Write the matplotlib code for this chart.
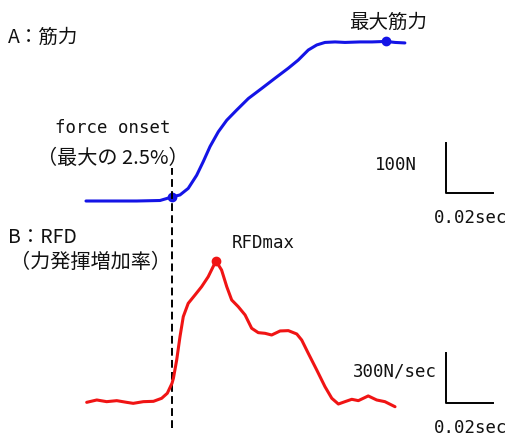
import numpy as np
import matplotlib.pyplot as plt

# ─── Data ─────────────────────────────────────────────────────────────────────
# Force trace: time in ms relative to force onset, force in N
force_t = [-36.6, -25.0, -15.0, -5.1, 0.0, 3.4, 6.9, 10.5, 13.3, 16.2, 19.7,
           23.3, 27.5, 32.5, 38.2, 43.8, 49.5, 53.7, 58.0, 61.6, 65.1,
           69.4, 73.6, 80.0, 85.1, 91.1, 94.9, 99.1]
force_n = [0, 0, 0, 1, 8, 12, 25, 51, 78, 108, 137,
           160, 180, 203, 223, 243, 263, 279, 299, 309, 314,
           315, 314, 315, 315, 316, 314, 313]

# RFD trace: time in ms, rate of force development in N/sec
rfd_t = [-36.3, -32.0, -27.8, -23.5, -19.3, -16.5, -12.2, -7.9, -4.4, -2.0,
         0.0, 0.6, 2.0, 3.4, 4.8, 6.9, 9.8, 12.6, 15.4, 18.7,
         21.1, 23.3, 25.4, 28.2, 31.1, 33.9, 36.7, 39.6, 42.4, 46.0,
         49.5, 53.1, 55.2, 58.0, 61.6, 65.1, 68.0, 70.8, 73.6, 76.5,
         79.3, 83.5, 87.1, 90.6, 94.9]
rfd_v = [-2, 12, 2, 8, -2, -8, 2, 4, 22, 52,
         111, 141, 250, 388, 507, 586, 636, 685, 744, 838,
         784, 685, 606, 566, 517, 438, 412, 408, 398, 422,
         424, 404, 368, 289, 190, 91, 22, -12, 2, 16,
         8, 36, 12, 2, -28]

ONSET_T = 0.0          # ms, force onset (2.5% of max force)
SCALE_T = 20           # ms  -> "0.02sec"
SCALE_F = 100          # N   -> "100N"
SCALE_R = 300          # N/s -> "300N/sec"

# ─── Layout (pixels) ──────────────────────────────────────────────────────────
W, H = 509, 441
ONSET_PX = 172
PX_PER_MS = 47 / 20
FORCE_BASE_PX, PX_PER_N = 201, 50.5 / 100
RFD_BASE_PX, PX_PER_NS = 402, 50.5 / 300
BAR_T = (445.5 - ONSET_PX) / PX_PER_MS

JP = ["Noto Sans CJK JP", "DejaVu Sans"]
MONO = ["DejaVu Sans Mono", "Noto Sans CJK JP"]

fig = plt.figure(figsize=(W / 100, H / 100), dpi=100)
ax_f = fig.add_axes([0, 0, 1, 1])
ax_r = fig.add_axes([0, 0, 1, 1])
for ax in (ax_f, ax_r):
    ax.set_xlim(-ONSET_PX / PX_PER_MS, (W - ONSET_PX) / PX_PER_MS)
    ax.axis("off")
    ax.patch.set_alpha(0)
ax_f.set_ylim((FORCE_BASE_PX - H) / PX_PER_N, FORCE_BASE_PX / PX_PER_N)
ax_r.set_ylim((RFD_BASE_PX - H) / PX_PER_NS, RFD_BASE_PX / PX_PER_NS)

blue, red = "#1414e6", "#f01414"
curve_kw = dict(lw=2.2, solid_capstyle="round", solid_joinstyle="round")

# A: force curve
ax_f.plot(force_t, force_n, color=blue, **curve_kw)
i_max = int(np.argmax(force_n))
i_on = force_t.index(ONSET_T)
ax_f.plot(force_t[i_max], force_n[i_max], "o", color=blue, ms=6)
ax_f.plot(force_t[i_on], force_n[i_on], "o", color=blue, ms=6)

# B: RFD curve
ax_r.plot(rfd_t, rfd_v, color=red, **curve_kw)
i_pk = int(np.argmax(rfd_v))
ax_r.plot(rfd_t[i_pk], rfd_v[i_pk], "o", color=red, ms=6)

# onset marker line through both traces
ax_f.axvline(ONSET_T, ymin=1 - 428 / H, ymax=1 - 168 / H, color="black",
             lw=1.4, linestyle=(0, (4, 2.2)))

# scale bars
f0, r0 = 15, -8
ax_f.plot([BAR_T, BAR_T, BAR_T + SCALE_T], [f0 + SCALE_F, f0, f0],
          color="black", lw=1.4)
ax_r.plot([BAR_T, BAR_T, BAR_T + SCALE_T], [r0 + SCALE_R, r0, r0],
          color="black", lw=1.4)


def label(x, y, s, ha="left", family=JP, size=14):
    fig.text(x / W, 1 - y / H, s, ha=ha, va="center", family=family,
             fontsize=size, color="#111111")


label(8, 37, "A：筋力")
label(388, 22, "最大筋力", ha="center")
label(113, 128, "force onset", ha="center", family=MONO, size=12.5)
label(113, 158, "（最大の 2.5%）", ha="center", size=14.5)
label(417, 165, "100N", ha="right", family=MONO, size=12.5)
label(471, 218, "0.02sec", ha="center", family=MONO, size=12.5)

label(8, 237, "B：RFD")
label(91, 262, "（力発揮増加率）", ha="center", size=14.5)
label(232, 243, "RFDmax", family=MONO, size=12.5)
label(437, 372, "300N/sec", ha="right", family=MONO, size=12.5)
label(471, 428, "0.02sec", ha="center", family=MONO, size=12.5)

fig.savefig("out.png", dpi=100)
